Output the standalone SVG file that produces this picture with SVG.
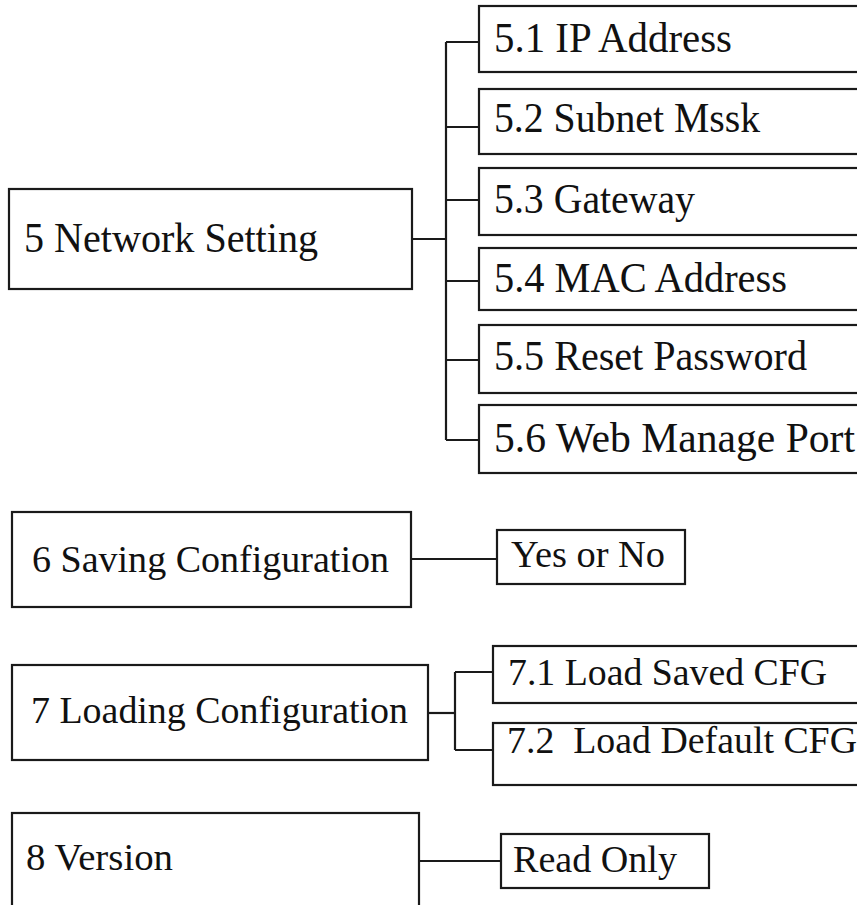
<svg xmlns="http://www.w3.org/2000/svg" width="857" height="905" viewBox="0 0 857 905">
<style>
rect{fill:#fff;stroke:#1a1a1a;stroke-width:2.2}
.c line{stroke:#1a1a1a;stroke-width:2.2;fill:none}
text{font-family:"Liberation Serif","Times New Roman",serif;fill:#111;white-space:pre}
.a{font-size:42px}
.b{font-size:38px}
</style>
<rect x="0" y="0" width="857" height="905" style="fill:#fff;stroke:none"/>
<g class="c" id="connectors">
<line x1="407" y1="239" x2="446" y2="239"/>
<line x1="446" y1="42" x2="446" y2="440"/>
<line x1="446" y1="42" x2="479" y2="42"/>
<line x1="446" y1="127" x2="479" y2="127"/>
<line x1="446" y1="200" x2="479" y2="200"/>
<line x1="446" y1="281" x2="479" y2="281"/>
<line x1="446" y1="360" x2="479" y2="360"/>
<line x1="446" y1="440" x2="479" y2="440"/>
<line x1="411" y1="559" x2="497" y2="559"/>
<line x1="428" y1="713" x2="455" y2="713"/>
<line x1="455" y1="672" x2="455" y2="750"/>
<line x1="455" y1="672" x2="493" y2="672"/>
<line x1="455" y1="750" x2="493" y2="750"/>
<line x1="419" y1="861" x2="501" y2="861"/>
</g>
<g id="n5"><rect x="9" y="189" width="403" height="100"/><text class="a" x="24" y="252" textLength="294" lengthAdjust="spacingAndGlyphs">5 Network Setting</text></g>
<g id="n5_1"><rect x="479" y="6" width="400" height="66"/><text class="a" x="494" y="52" textLength="238" lengthAdjust="spacingAndGlyphs">5.1 IP Address</text></g>
<g id="n5_2"><rect x="479" y="89" width="400" height="65"/><text class="a" x="494" y="132" textLength="266" lengthAdjust="spacingAndGlyphs">5.2 Subnet Mssk</text></g>
<g id="n5_3"><rect x="479" y="168" width="400" height="67"/><text class="a" x="494" y="213" textLength="201" lengthAdjust="spacingAndGlyphs">5.3 Gateway</text></g>
<g id="n5_4"><rect x="479" y="248" width="400" height="62"/><text class="a" x="494" y="292" textLength="293" lengthAdjust="spacingAndGlyphs">5.4 MAC Address</text></g>
<g id="n5_5"><rect x="479" y="325" width="400" height="68"/><text class="a" x="494" y="370" textLength="313" lengthAdjust="spacingAndGlyphs">5.5 Reset Password</text></g>
<g id="n5_6"><rect x="479" y="405" width="400" height="68"/><text class="a" x="494" y="452" textLength="361" lengthAdjust="spacingAndGlyphs">5.6 Web Manage Port</text></g>
<g id="n6"><rect x="12" y="512" width="399" height="95"/><text class="b" x="32" y="572" textLength="357" lengthAdjust="spacingAndGlyphs">6 Saving Configuration</text></g>
<g id="n6_1"><rect x="497" y="530" width="188" height="54"/><text class="b" x="511" y="567" textLength="154" lengthAdjust="spacingAndGlyphs">Yes or No</text></g>
<g id="n7"><rect x="12" y="665" width="416" height="95"/><text class="b" x="31" y="723" textLength="377" lengthAdjust="spacingAndGlyphs">7 Loading Configuration</text></g>
<g id="n7_1"><rect x="493" y="646" width="400" height="57"/><text class="b" x="508" y="685" textLength="319" lengthAdjust="spacingAndGlyphs">7.1 Load Saved CFG</text></g>
<g id="n7_2"><rect x="493" y="723" width="400" height="62"/><text class="b" x="507" y="753" textLength="350" lengthAdjust="spacingAndGlyphs">7.2  Load Default CFG</text></g>
<g id="n8"><rect x="12" y="813" width="407" height="120"/><text class="b" x="26" y="870" textLength="147" lengthAdjust="spacingAndGlyphs">8 Version</text></g>
<g id="n8_1"><rect x="501" y="834" width="208" height="54"/><text class="b" x="513" y="872" textLength="164" lengthAdjust="spacingAndGlyphs">Read Only</text></g>
</svg>
